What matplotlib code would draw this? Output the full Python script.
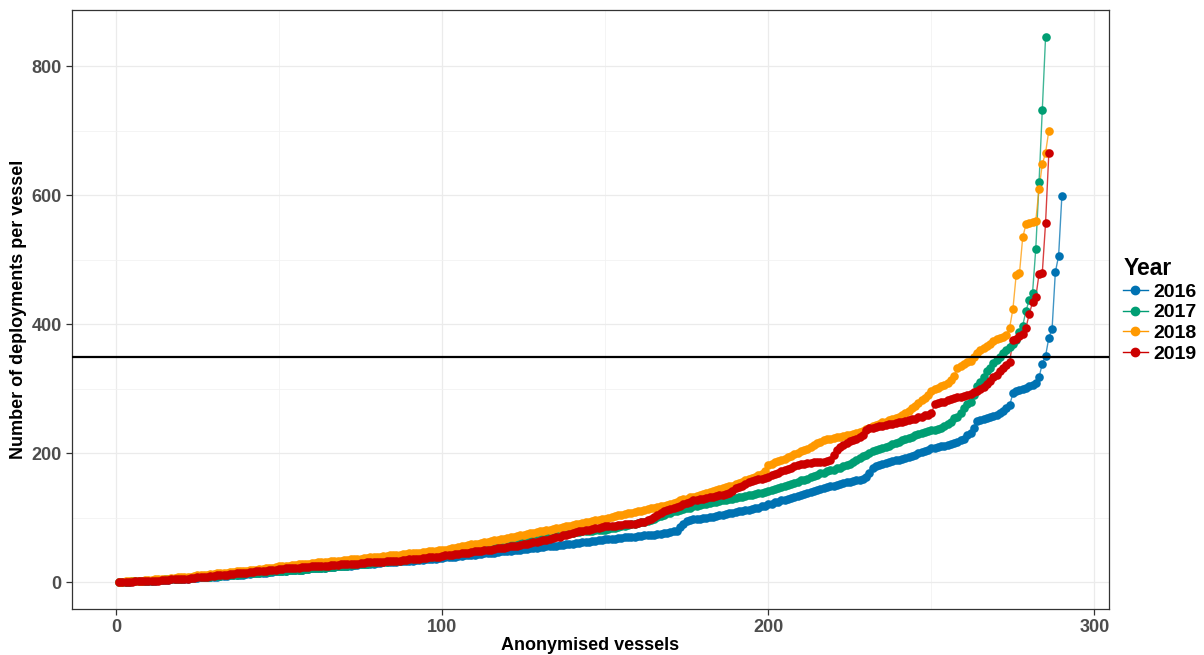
import numpy as np
import matplotlib
matplotlib.use('Agg')
import matplotlib.pyplot as plt
from matplotlib.lines import Line2D
from matplotlib.ticker import MultipleLocator

plt.rcParams.update({
    'font.family': ['Liberation Sans', 'DejaVu Sans'],
    'font.weight': 'bold',
})

# ---- deployments per vessel, sorted ascending, one list per year ----
dep_2016 = [
    1, 1, 1, 1, 2, 2, 2, 2, 3, 3,
    3, 3, 4, 4, 4, 4, 5, 5, 5, 6,
    6, 6, 7, 7, 7, 8, 8, 8, 9, 9,
    9, 10, 10, 10, 11, 11, 12, 12, 12, 13,
    13, 14, 14, 14, 15, 15, 16, 16, 17, 18,
    18, 18, 19, 19, 20, 20, 20, 21, 21, 22,
    22, 22, 23, 23, 24, 24, 24, 25, 25, 26,
    26, 26, 27, 27, 28, 28, 28, 29, 29, 30,
    30, 31, 31, 31, 32, 32, 33, 33, 33, 34,
    34, 35, 35, 35, 36, 36, 37, 37, 38, 38,
    39, 39, 40, 40, 41, 41, 42, 42, 43, 43,
    44, 44, 45, 45, 46, 46, 47, 48, 48, 49,
    49, 50, 50, 51, 52, 52, 53, 53, 54, 55,
    55, 56, 56, 57, 57, 58, 58, 59, 59, 60,
    61, 61, 62, 62, 63, 64, 64, 65, 66, 67,
    67, 68, 68, 69, 69, 70, 70, 71, 71, 72,
    72, 73, 73, 74, 74, 75, 75, 76, 77, 78,
    79, 80, 86, 91, 95, 97, 98, 98, 99, 100,
    100, 101, 102, 103, 104, 105, 106, 107, 108, 109,
    110, 111, 112, 113, 114, 115, 116, 118, 119, 121,
    122, 124, 125, 127, 128, 130, 131, 133, 134, 136,
    137, 139, 140, 142, 143, 145, 146, 148, 149, 150,
    151, 152, 154, 155, 156, 157, 158, 159, 160, 163,
    170, 178, 180, 182, 184, 185, 186, 188, 189, 190,
    192, 193, 195, 196, 198, 200, 202, 204, 206, 208,
    209, 210, 211, 212, 213, 214, 216, 218, 220, 223,
    228, 231, 240, 250, 252, 254, 255, 257, 258, 260,
    263, 266, 270, 275, 293, 296, 298, 300, 302, 304,
    306, 309, 318, 339, 351, 379, 393, 481, 506, 599,
]

dep_2017 = [
    1, 1, 1, 1, 2, 2, 2, 3, 3, 3,
    3, 4, 4, 4, 5, 5, 5, 6, 6, 6,
    7, 7, 7, 8, 8, 8, 9, 9, 9, 10,
    10, 10, 11, 11, 12, 12, 12, 13, 13, 14,
    14, 14, 15, 15, 16, 16, 16, 17, 17, 18,
    18, 18, 19, 19, 20, 20, 20, 21, 21, 22,
    22, 22, 23, 23, 24, 24, 24, 25, 25, 26,
    26, 27, 27, 28, 28, 29, 29, 30, 30, 31,
    31, 32, 32, 33, 33, 34, 34, 35, 35, 36,
    36, 37, 37, 38, 38, 39, 39, 40, 41, 42,
    42, 43, 44, 45, 45, 46, 47, 48, 49, 50,
    51, 52, 53, 54, 55, 56, 57, 58, 59, 60,
    60, 61, 62, 63, 64, 65, 66, 67, 68, 69,
    70, 71, 72, 72, 73, 74, 75, 76, 76, 77,
    78, 78, 79, 79, 80, 80, 81, 81, 82, 82,
    83, 84, 85, 86, 87, 88, 89, 90, 91, 92,
    93, 94, 95, 97, 99, 101, 103, 105, 107, 108,
    110, 111, 113, 114, 115, 116, 118, 119, 120, 121,
    122, 123, 124, 125, 126, 127, 128, 129, 130, 131,
    132, 133, 134, 135, 136, 137, 138, 139, 140, 142,
    143, 145, 147, 148, 150, 151, 153, 154, 156, 158,
    159, 161, 163, 165, 167, 169, 170, 172, 174, 175,
    177, 178, 180, 182, 184, 187, 190, 193, 196, 198,
    201, 203, 205, 207, 209, 210, 212, 214, 216, 218,
    220, 222, 224, 226, 228, 230, 231, 233, 234, 236,
    237, 238, 240, 242, 245, 249, 255, 257, 262, 270,
    276, 280, 290, 305, 311, 318, 327, 333, 340, 345,
    350, 355, 360, 365, 370, 376, 388, 398, 421, 438,
    448, 517, 620, 732, 845,
]

dep_2018 = [
    1, 1, 2, 2, 2, 3, 3, 3, 4, 4,
    4, 5, 5, 5, 6, 6, 7, 7, 8, 8,
    8, 9, 9, 10, 11, 11, 12, 12, 13, 13,
    14, 14, 15, 15, 16, 16, 17, 17, 18, 18,
    19, 19, 20, 21, 21, 22, 23, 23, 24, 25,
    25, 26, 26, 27, 27, 28, 28, 29, 29, 30,
    30, 31, 31, 32, 32, 33, 33, 34, 34, 35,
    35, 36, 36, 37, 37, 38, 38, 39, 39, 40,
    40, 41, 41, 42, 42, 43, 43, 44, 44, 45,
    45, 46, 46, 47, 47, 48, 48, 49, 50, 50,
    51, 52, 53, 54, 55, 56, 57, 58, 59, 60,
    60, 61, 62, 63, 64, 65, 66, 67, 68, 69,
    70, 71, 72, 73, 74, 75, 76, 77, 78, 79,
    80, 81, 82, 83, 84, 85, 86, 87, 88, 89,
    90, 91, 92, 93, 94, 95, 96, 97, 98, 99,
    100, 101, 103, 104, 105, 106, 107, 108, 109, 110,
    111, 113, 114, 115, 116, 117, 118, 119, 120, 122,
    123, 125, 127, 129, 130, 132, 133, 134, 135, 137,
    138, 140, 141, 143, 145, 146, 148, 149, 150, 152,
    154, 156, 158, 160, 162, 164, 166, 168, 172, 182,
    184, 186, 188, 190, 192, 194, 196, 199, 201, 203,
    205, 207, 210, 213, 216, 218, 220, 222, 223, 224,
    225, 226, 227, 228, 229, 230, 231, 233, 235, 238,
    240, 242, 244, 246, 248, 249, 251, 253, 255, 257,
    259, 262, 266, 270, 274, 278, 282, 286, 290, 296,
    300, 302, 304, 306, 309, 314, 320, 332, 335, 338,
    341, 343, 350, 356, 360, 363, 366, 370, 374, 377,
    379, 381, 383, 395, 424, 477, 479, 535, 555, 557,
    558, 560, 610, 648, 666, 700,
]

dep_2019 = [
    1, 1, 1, 1, 1, 2, 2, 2, 2, 3,
    3, 3, 3, 4, 4, 4, 5, 5, 5, 6,
    6, 6, 7, 7, 8, 8, 9, 9, 10, 10,
    11, 11, 12, 12, 13, 13, 14, 14, 15, 15,
    16, 16, 17, 17, 18, 18, 19, 20, 20, 21,
    21, 22, 22, 23, 23, 23, 24, 24, 24, 25,
    25, 25, 26, 26, 26, 27, 27, 27, 28, 28,
    28, 29, 29, 29, 30, 30, 31, 31, 31, 32,
    32, 32, 33, 33, 34, 34, 34, 35, 35, 36,
    36, 37, 37, 38, 38, 39, 39, 40, 40, 41,
    42, 42, 43, 44, 44, 45, 46, 46, 47, 48,
    48, 49, 50, 50, 51, 52, 53, 53, 54, 55,
    56, 56, 57, 58, 59, 60, 61, 62, 63, 64,
    65, 66, 67, 69, 70, 71, 73, 74, 75, 77,
    78, 79, 80, 81, 82, 83, 84, 85, 86, 87,
    87, 88, 88, 89, 89, 90, 90, 91, 91, 92,
    93, 94, 96, 98, 101, 104, 107, 110, 112, 114,
    115, 117, 119, 121, 123, 125, 127, 128, 129, 130,
    131, 132, 133, 134, 135, 136, 137, 138, 142, 146,
    148, 150, 153, 155, 157, 158, 160, 161, 162, 164,
    166, 168, 170, 172, 174, 176, 178, 180, 182, 183,
    184, 185, 185, 186, 186, 187, 187, 188, 190, 198,
    205, 210, 213, 216, 219, 221, 223, 225, 228, 236,
    239, 240, 241, 242, 243, 244, 245, 246, 247, 248,
    249, 250, 252, 253, 254, 256, 257, 259, 260, 262,
    276, 278, 279, 280, 282, 284, 286, 287, 288, 289,
    290, 292, 295, 297, 300, 303, 307, 312, 318, 322,
    328, 332, 337, 342, 376, 378, 382, 385, 395, 416,
    434, 442, 478, 480, 557, 665,
]

years = ['2016', '2017', '2018', '2019']
series = [dep_2016, dep_2017, dep_2018, dep_2019]
colors = ['#0072B2', '#009E73', '#FF9900', '#CC0000']
threshold = 350

fig = plt.figure(figsize=(12.04, 6.55), dpi=100)
ax = fig.add_axes([0.0598, 0.0702, 0.8613, 0.9145])

for yr, vals, col in zip(years, series, colors):
    x = np.arange(1, len(vals) + 1)
    ax.plot(x, vals, color=col, lw=1.0, alpha=0.75, zorder=3)
    ax.plot(x, vals, ls='none', marker='o', ms=6.2, mfc=col, mec=col, mew=0, zorder=4)

ax.axhline(threshold, color='black', lw=1.6, zorder=5)

# ggplot-like expanded limits
xmax = max(len(v) for v in series)
xr = xmax - 1
ax.set_xlim(1 - 0.05 * xr, xmax + 0.05 * xr)
ymax = max(max(v) for v in series)
yr_ = ymax - 1
ax.set_ylim(1 - 0.05 * yr_, ymax + 0.05 * yr_)

ax.xaxis.set_major_locator(MultipleLocator(100))
ax.xaxis.set_minor_locator(MultipleLocator(50))
ax.yaxis.set_major_locator(MultipleLocator(200))
ax.yaxis.set_minor_locator(MultipleLocator(100))
ax.grid(which='major', color='#EBEBEB', lw=0.9, zorder=0)
ax.grid(which='minor', color='#F2F2F2', lw=0.6, zorder=0)
ax.set_axisbelow(True)

for sp in ax.spines.values():
    sp.set_color('#333333')
    sp.set_linewidth(0.9)

ax.tick_params(which='major', direction='out', length=4.5, width=0.9, color='#333333',
               labelcolor='#4D4D4D', labelsize=13, pad=3)
ax.tick_params(which='minor', length=0)
for lab in ax.get_xticklabels() + ax.get_yticklabels():
    lab.set_fontweight('bold')

ax.set_xlabel('Anonymised vessels', fontsize=13, fontweight='bold')
ax.set_ylabel('Number of deployments per vessel', fontsize=13, fontweight='bold')
ax.xaxis.set_label_coords(0.5, -0.046)
ax.yaxis.set_label_coords(-0.043, 0.5)

handles = [Line2D([0], [0], color=c, lw=1.0, marker='o', ms=6, mec=c, mfc=c)
           for c in colors]
leg = fig.legend(handles, years, title='Year', loc='center left',
                 bbox_to_anchor=(0.933, 0.527), frameon=False,
                 prop={'weight': 'bold', 'size': 14},
                 title_fontproperties={'weight': 'bold', 'size': 16.5},
                 handlelength=1.25, handletextpad=0.3, labelspacing=0.16,
                 borderaxespad=0, borderpad=0)
leg._legend_box.align = 'left'

fig.savefig('out.png', dpi=100)
